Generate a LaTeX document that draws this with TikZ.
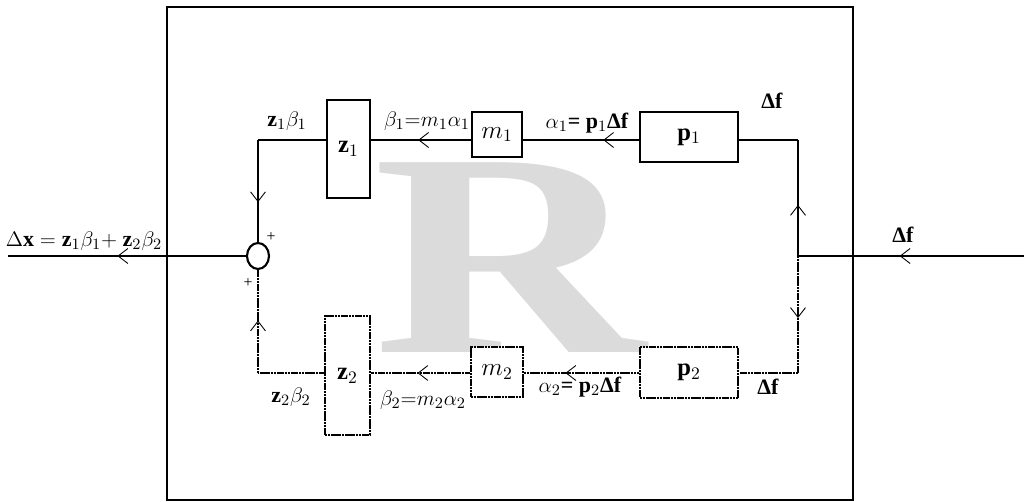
\documentclass[tikz,border=0pt]{standalone}
\usepackage{amsmath,amssymb}
\usepackage{fontspec}
\setmainfont{Liberation Serif}
\usetikzlibrary{arrows.meta,decorations.markings,shapes.geometric}

\begin{document}
\begin{tikzpicture}[x=0.02cm,y=-0.02cm,
    wire/.style={line width=1.3pt},
    dotwire/.style={line width=1.5pt, dash pattern=on 1.3pt off 0.3pt},
    blk/.style={draw, line width=0.6pt, inner sep=0pt, fill=white, font=\fontsize{14}{16}\selectfont},
    dotblk/.style={blk, line width=1.4pt, dash pattern=on 1.3pt off 0.3pt},
    lbl/.style={font=\fontsize{12.5}{14}\selectfont, inner sep=0pt},
    midarr/.style={postaction={decorate}, decoration={markings,
        mark=at position #1 with {\arrow{Straight Barb[length=5.5pt,width=8.5pt,line width=0.5pt]}}}}]
  \useasboundingbox (0,0) rectangle (1024,502);
  \node[text=black!14, anchor=base, inner sep=0pt] (bigR) at (510,353)
       {\scalebox{1.3}[1]{\fontsize{165}{165}\selectfont\bfseries R}};
  \draw[line width=1.6pt] (167,7) rectangle (853,500);

  \node[blk, line width=1.1pt, minimum width=0.86cm, minimum height=1.96cm] (z1) at (348.5,149) {$\mathbf{z}_1$};
  \node[blk, minimum width=1.0cm, minimum height=0.9cm] (m1) at (497,134.5) {$m_1$};
  \node[blk, minimum width=1.96cm, minimum height=1.0cm] (p1) at (689,137) {$\mathbf{p}_1$};
  \node[dotblk, minimum width=0.9cm, minimum height=2.38cm] (z2) at (347.5,375.5) {$\mathbf{z}_2$};
  \node[dotblk, minimum width=1.04cm, minimum height=1.0cm] (m2) at (497,372) {$m_2$};
  \node[dotblk, minimum width=1.96cm, minimum height=1.02cm] (p2) at (689,372.5) {$\mathbf{p}_2$};
  \node[draw, ellipse, line width=1.2pt, minimum width=0.44cm, minimum height=0.52cm, inner sep=0pt] (sum) at (258,256) {};

  \coordinate (in) at (1024,256);
  \coordinate (out) at (8,256);
  \coordinate (split) at (798,256);
  \coordinate (tr) at (798,140);
  \coordinate (br) at (798,373);
  \coordinate (tl) at (258,140);
  \coordinate (bl) at (258,373);

  \draw[wire, midarr=0.55] (in) -- (split);
  \draw[wire, midarr=0.44] (split) -- (tr);
  \draw[wire] (tr) -- (p1.east |- tr);
  \draw[wire, midarr=0.31] (p1.west |- tr) -- (m1.east |- tr);
  \draw[wire, midarr=0.53] (m1.west |- tr) -- (z1.east |- tr);
  \draw[wire] (z1.west |- tr) -- (tl);
  \draw[wire, midarr=0.61] (tl) -- (sum.north);
  \draw[wire, midarr=0.54] (sum.west) -- (out);

  \draw[dotwire, midarr=0.53] (split) -- (br);
  \draw[dotwire] (br) -- (p2.east |- br);
  \draw[dotwire, midarr=0.64] (p2.west |- br) -- (m2.east |- br);
  \draw[dotwire, midarr=0.53] (m2.west |- br) -- (z2.east |- br);
  \draw[dotwire] (z2.west |- br) -- (bl);
  \draw[dotwire, midarr=0.51] (bl) -- (sum.south);

  \node[lbl] (lz1) at (287,121) {$\mathbf{z}_1\beta_1$};
  \node[lbl] (lb1) at (427,121) {$\beta_1{=}m_1\alpha_1$};
  \node[lbl] (la1) at (587,123) {$\alpha_1$\textbf{= p}$_1$\textbf{Δf}};
  \node[lbl] (ldf1) at (772,101) {\textbf{Δf}};
  \node[lbl] (ldx) at (84,241) {$\Delta\mathbf{x} = \mathbf{z}_1\beta_1{+}\ \mathbf{z}_2\beta_2$};
  \node[lbl] (ldfin) at (903,235) {\textbf{Δf}};
  \node[lbl] (lz2) at (291,397) {$\mathbf{z}_2\beta_2$};
  \node[lbl] (lb2) at (423,400) {$\beta_2{=}m_2\alpha_2$};
  \node[lbl] (la2) at (580,387) {$\alpha_2$\textbf{= p}$_2$\textbf{Δf}};
  \node[lbl] (ldf2) at (768,387) {\textbf{Δf}};
  \node[lbl, font=\small] (plus1) at (271,237) {+};
  \node[lbl, font=\small] (plus2) at (248,283) {+};
\end{tikzpicture}
\end{document}
